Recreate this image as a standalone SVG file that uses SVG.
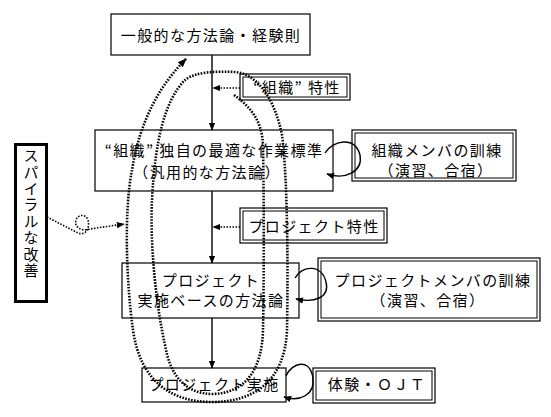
<svg xmlns="http://www.w3.org/2000/svg" width="551" height="417" viewBox="0 0 551 417">
<style>
text{font-family:"Noto Sans CJK JP","Noto Sans CJK SC",sans-serif;font-size:15px;letter-spacing:1.4px;fill:#000}
.box{fill:#fff;stroke:#000;stroke-width:1.2}
.dbl{fill:none;stroke:#000;stroke-width:1}
.solid{fill:none;stroke:#000;stroke-width:1.4}
.dot{fill:none;stroke:#000;stroke-width:2.6;stroke-dasharray:1.6 1.4}
.dotthin{fill:none;stroke:#000;stroke-width:1.6;stroke-dasharray:1.5 1.5}
</style>
<defs>
<marker id="ah" viewBox="0 0 10 10" refX="9" refY="5" markerWidth="8" markerHeight="8" markerUnits="userSpaceOnUse" orient="auto">
<path d="M0,1 L10,5 L0,9 Z" fill="#000"/>
</marker>
<marker id="ahd" viewBox="0 0 10 10" refX="9" refY="5" markerWidth="9" markerHeight="9" markerUnits="userSpaceOnUse" orient="auto">
<path d="M0,1 L10,5 L0,9 Z" fill="#000"/>
</marker>
</defs>

<g id="node-general">
<rect class="box" x="111" y="14" width="199" height="41"/>
<text x="211" y="41" text-anchor="middle">一般的な方法論・経験則</text>
</g>

<g id="node-org-char">
<rect class="box" x="240" y="74" width="110" height="26"/>
<rect class="dbl" x="243" y="77" width="104" height="20"/>
<text x="297" y="93" text-anchor="middle">“組織” 特性</text>
</g>

<g id="node-org-standard">
<rect class="box" x="95" y="130" width="238" height="61"/>
<text x="214" y="156" text-anchor="middle">“組織” 独自の最適な作業標準</text>
<text x="207" y="178" text-anchor="middle">（汎用的な方法論）</text>
</g>

<g id="node-org-training">
<rect class="box" x="352" y="130" width="164" height="51"/>
<rect class="dbl" x="355" y="133" width="158" height="45"/>
<text x="437" y="156" text-anchor="middle">組織メンバの訓練</text>
<text x="436" y="176" text-anchor="middle">（演習、合宿）</text>
</g>

<g id="node-spiral">
<rect x="15.5" y="144.5" width="31" height="157" fill="#fff" stroke="#000" stroke-width="3"/>
<text x="31" y="148" writing-mode="vertical-rl" font-size="16" letter-spacing="2.6px">スパイラルな改善</text>
</g>

<g id="node-proj-char">
<rect class="box" x="240" y="208" width="147" height="35"/>
<rect class="dbl" x="243" y="211" width="141" height="29"/>
<text x="314" y="232" text-anchor="middle">プロジェクト特性</text>
</g>

<g id="node-proj-method">
<rect class="box" x="122" y="263" width="177" height="55"/>
<text x="211" y="286" text-anchor="middle">プロジェクト</text>
<text x="211" y="306" text-anchor="middle">実施ベースの方法論</text>
</g>

<g id="node-proj-training">
<rect class="box" x="318" y="258" width="222" height="63"/>
<rect class="dbl" x="321" y="261" width="216" height="57"/>
<text x="433" y="286" text-anchor="middle">プロジェクトメンバの訓練</text>
<text x="428" y="306" text-anchor="middle">（演習、合宿）</text>
</g>

<g id="node-proj-exec">
<rect class="box" x="142" y="368" width="144" height="34"/>
<text x="214" y="390" text-anchor="middle">プロジェクト実施</text>
</g>

<g id="node-ojt">
<rect class="box" x="313" y="368" width="122" height="35"/>
<rect class="dbl" x="316" y="371" width="116" height="29"/>
<text x="377" y="390" text-anchor="middle">体験・ＯＪＴ</text>
</g>

<g id="connectors">
<line class="solid" x1="212" y1="55" x2="212" y2="130" marker-end="url(#ah)"/>
<line class="solid" x1="212" y1="191" x2="212" y2="263" marker-end="url(#ah)"/>
<line class="solid" x1="212" y1="318" x2="212" y2="368" marker-end="url(#ah)"/>
<line class="dotthin" x1="240" y1="88" x2="213" y2="88" marker-end="url(#ah)"/>
<line class="dotthin" x1="240" y1="227" x2="213" y2="227" marker-end="url(#ah)"/>
<path class="solid" d="M325 153 C333 140 355 136 360 155 C363 172 345 180 327 174" marker-end="url(#ah)"/>
<path class="solid" d="M295 278 C302 265 322 264 326 282 C330 298 314 303 296 299" marker-end="url(#ah)"/>
<path class="solid" d="M286 376 C292 362 310 358 313 378 C315 395 300 402 284 397" marker-end="url(#ah)"/>
<path class="dotthin" d="M47 217 L78 233 C86 236 90 228 88 220 C86 214 78 214 76 220 C74 226 80 232 90 229 L124 224" marker-end="url(#ah)"/>
<path class="dot" d="M234 95 C252 108 262 122 263 145 C264 200 264 280 263 330 C262 370 245 393 213 394 C185 394 170 375 165 345 C155 300 150 240 152 200 C155 140 165 100 185 80 C195 72 215 71 235 72 C258 74 275 100 282 135 C288 180 288 280 287 330 C285 380 255 402 212 402 C170 402 140 380 133 330 C126 280 124 210 132 170 C140 120 160 85 186 59" marker-end="url(#ahd)"/>
</g>
</svg>
